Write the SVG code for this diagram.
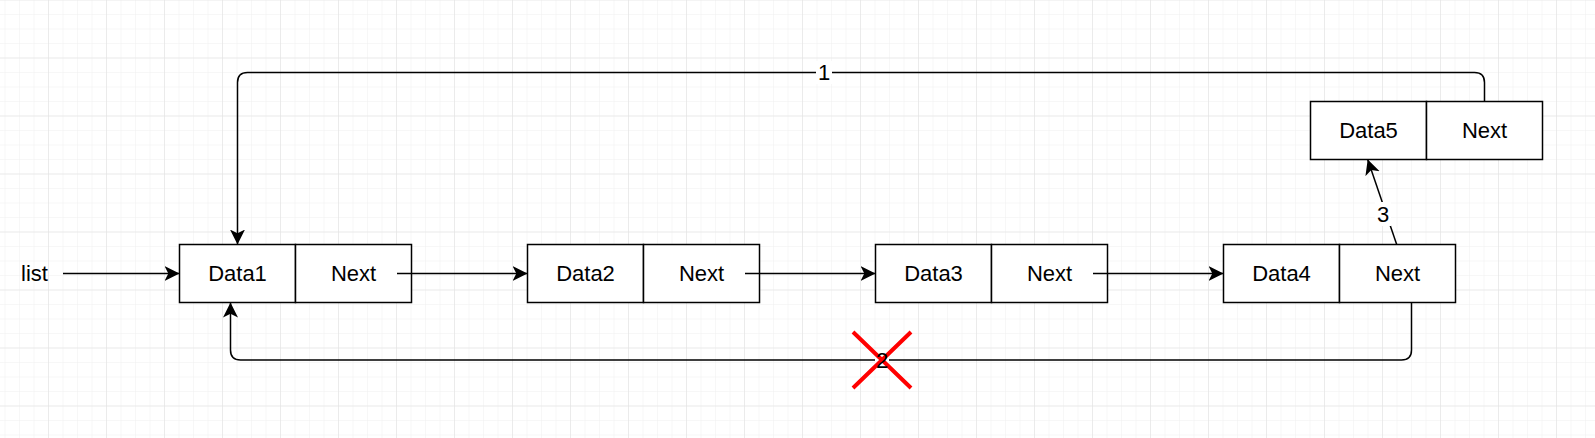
<svg xmlns="http://www.w3.org/2000/svg" width="1595" height="438" viewBox="0 0 1595 438">
  <defs>
    <pattern id="minor" x="4.5" y="-0.5" width="14.5" height="14.5" patternUnits="userSpaceOnUse">
      <path d="M0 0 H14.5 M0 0 V14.5" fill="none" stroke="#f0f0f0" stroke-width="1"/>
    </pattern>
    <pattern id="major" x="48" y="57.5" width="58" height="58" patternUnits="userSpaceOnUse">
      <path d="M0 0 H58 M0 0 V58" fill="none" stroke="#e0e0e0" stroke-width="1"/>
    </pattern>
    <marker id="arrow" markerUnits="userSpaceOnUse" markerWidth="16" markerHeight="16" viewBox="0 0 16 16" refX="15" refY="8" orient="auto">
      <path d="M0 0.5 L15 8 L0 15.5 L3.8 8 Z" fill="#000"/>
    </marker>
    <style>
      .cell { fill: #fff; stroke: #000; stroke-width: 1.5; }
      .txt { font-family: "Liberation Sans", Arial, sans-serif; font-size: 22px; fill: #000; text-anchor: middle; dominant-baseline: central; }
      .lbl { font-family: "Liberation Sans", Arial, sans-serif; font-size: 22px; fill: #000; text-anchor: middle; dominant-baseline: central; }
      .edge { fill: none; stroke: #000; stroke-width: 1.5; marker-end: url(#arrow); }
    </style>
  </defs>
  <rect width="1595" height="438" fill="#fff"/>
  <rect width="1595" height="438" fill="url(#minor)"/>
  <rect width="1595" height="438" fill="url(#major)"/>

  <g id="list">
    <text class="txt" x="34.5" y="273.5">list</text>
  </g>

  <g id="node1">
    <rect class="cell" x="179.5" y="244.5" width="116" height="58"/>
    <rect class="cell" x="295.5" y="244.5" width="116" height="58"/>
    <text class="txt" x="237.5" y="273.5">Data1</text>
    <text class="txt" x="353.5" y="273.5">Next</text>
  </g>
  <g id="node2">
    <rect class="cell" x="527.5" y="244.5" width="116" height="58"/>
    <rect class="cell" x="643.5" y="244.5" width="116" height="58"/>
    <text class="txt" x="585.5" y="273.5">Data2</text>
    <text class="txt" x="701.5" y="273.5">Next</text>
  </g>
  <g id="node3">
    <rect class="cell" x="875.5" y="244.5" width="116" height="58"/>
    <rect class="cell" x="991.5" y="244.5" width="116" height="58"/>
    <text class="txt" x="933.5" y="273.5">Data3</text>
    <text class="txt" x="1049.5" y="273.5">Next</text>
  </g>
  <g id="node4">
    <rect class="cell" x="1223.5" y="244.5" width="116" height="58"/>
    <rect class="cell" x="1339.5" y="244.5" width="116" height="58"/>
    <text class="txt" x="1281.5" y="273.5">Data4</text>
    <text class="txt" x="1397.5" y="273.5">Next</text>
  </g>
  <g id="node5">
    <rect class="cell" x="1310.5" y="101.5" width="116" height="58"/>
    <rect class="cell" x="1426.5" y="101.5" width="116" height="58"/>
    <text class="txt" x="1368.5" y="130.5">Data5</text>
    <text class="txt" x="1484.5" y="130.5">Next</text>
  </g>

  <g id="connectors">
    <path class="edge" d="M63 273.5 H179.5"/>
    <path class="edge" d="M397 273.5 H527.5"/>
    <path class="edge" d="M745 273.5 H875.5"/>
    <path class="edge" d="M1093 273.5 H1223.5"/>
    <path class="edge" d="M1484.5 101.5 V82.5 Q1484.5 72.5 1474.5 72.5 H247.5 Q237.5 72.5 237.5 82.5 V244.5"/>
    <path class="edge" d="M1411.5 302.5 V350 Q1411.5 360 1401.5 360 H240.5 Q230.5 360 230.5 350 V302.5"/>
    <path class="edge" d="M1396.7 244.5 L1367.7 159.5"/>
    <rect x="816" y="61" width="16" height="23" fill="#fff"/>
    <text class="lbl" x="824" y="72.5">1</text>
    <rect x="875" y="350" width="14" height="21" fill="#fff"/>
    <rect x="1375" y="202" width="16" height="24" fill="#fff"/>
    <text class="lbl" x="1383" y="214">3</text>
  </g>

  <g id="cross">
    <path d="M853 332 L911 388 M911 332 L853 388" stroke="#ff0000" stroke-width="4" fill="none"/>
  </g>
  <text class="lbl" x="882" y="360">2</text>
</svg>
